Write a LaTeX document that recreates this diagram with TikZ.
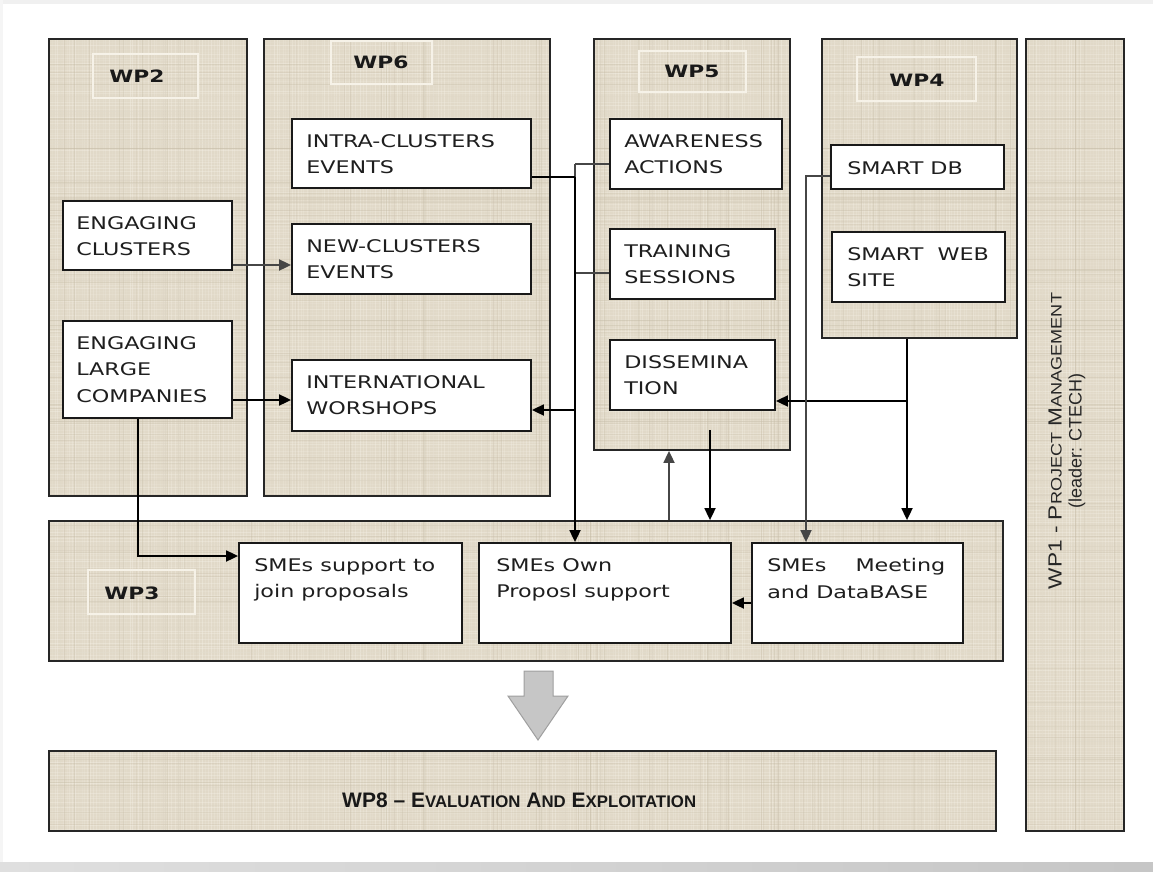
\documentclass[tikz,border=0pt]{standalone}
\usepackage{fontspec}
\usepackage{graphicx}
\usetikzlibrary{arrows.meta,fit,calc}
\newfontfamily\wide[FakeStretch=1.28]{DejaVu Sans}
\newfontfamily\arialf{Liberation Sans}
\definecolor{linen}{RGB}{225,217,200}
\definecolor{linenlight}{RGB}{246,242,232}
\definecolor{linendark}{RGB}{196,186,164}
\definecolor{boxtext}{RGB}{30,30,30}
\newcommand\smc[2]{{\fontsize{#1}{#1}\selectfont #2}}
\begin{document}
\begin{tikzpicture}[x=1pt,y=-1pt,
  panel/.style={rectangle, draw=black!85, line width=1.8pt, fill=linen, inner sep=0pt},
  tag/.style={rectangle, draw=linenlight, line width=1.3pt, inner sep=0pt},
  tagtext/.style={inner sep=0pt, text=black!90, font=\wide\bfseries\fontsize{17}{20}\selectfont},
  box/.style={rectangle, draw=black!90, line width=1.8pt, fill=white, inner sep=0pt},
  txt/.style={anchor=north west, inner sep=0pt, align=left, text=boxtext,
              font=\wide\fontsize{17.4}{26.5}\selectfont},
  ln/.style={line width=1.8pt},
  arr/.style={line width=1.8pt, -{Triangle[length=12pt,width=11pt]}},
  soft/.style={draw=gray!55!black}
]
\useasboundingbox (0,0) rectangle (1153,872);

% page frame and shadow
\fill[white] (0,0) rectangle (1153,872);
\fill[gray!12] (0,0) rectangle (1153,4);
\fill[gray!8] (0,0) rectangle (3,872);
\shade[left color=gray!25, right color=gray!45] (0,862) rectangle (1153,872);

% work package panels (fill first, linen weave, then borders)
\fill[linen] (49,39) rectangle (247,496) (264,39) rectangle (550,496)
  (594,39) rectangle (790,450) (822,39) rectangle (1017,338)
  (1026,39) rectangle (1124,831) (49,521) rectangle (1003,661)
  (49,751) rectangle (996,831);
\begin{scope}
  \clip (49,39) rectangle (247,496) (264,39) rectangle (550,496)
    (594,39) rectangle (790,450) (822,39) rectangle (1017,338)
    (1026,39) rectangle (1124,831) (49,521) rectangle (1003,661)
    (49,751) rectangle (996,831);
  \pgfmathsetseed{11}
  \foreach \k in {0,...,384}{
    \pgfmathsetmacro\op{0.08+0.3*rnd}
    \draw[linenlight, opacity=\op, line width=1pt] (\k*3+rnd*2,0) -- ++(0,872);
  }
  \foreach \k in {0,...,290}{
    \pgfmathsetmacro\op{0.08+0.3*rnd}
    \draw[linenlight, opacity=\op, line width=1pt] (0,\k*3+rnd*2) -- ++(1153,0);
  }
  \foreach \k in {0,...,120}{
    \pgfmathsetmacro\op{0.1+0.25*rnd}
    \draw[linendark, opacity=\op, line width=0.8pt] (rnd*1153,0) -- ++(0,872);
    \draw[linendark, opacity=\op, line width=0.8pt] (0,rnd*872) -- ++(1153,0);
  }
\end{scope}
\node[panel, fill=none, fit={(49,39)(247,496)}] (wp2) {};
\node[panel, fill=none, fit={(264,39)(550,496)}] (wp6) {};
\node[panel, fill=none, fit={(594,39)(790,450)}] (wp5) {};
\node[panel, fill=none, fit={(822,39)(1017,338)}] (wp4) {};
\node[panel, fill=none, fit={(1026,39)(1124,831)}] (wp1) {};
\node[panel, fill=none, fit={(49,521)(1003,661)}] (wp3) {};
\node[panel, fill=none, fit={(49,751)(996,831)}] (wp8) {};

% panel titles
\node[tag, fit={(93,54)(198,98)}] (tag2) {};
\node[tagtext] (t2) at (137,76) {WP2};
\node[tag, fit={(331,41)(432,84)}] (tag6) {};
\node[tagtext] (t6) at (381,62) {WP6};
\node[tag, fit={(639,51)(746,92)}] (tag5) {};
\node[tagtext] (t5) at (692,71) {WP5};
\node[tag, fit={(857,57)(976,101)}] (tag4) {};
\node[tagtext] (t4) at (917,80) {WP4};
\node[tag, fit={(88,570)(195,614)}] (tag3) {};
\node[tagtext] (t3) at (132,593) {WP3};

% activity boxes
\node[box, fit={(63,201)(232,270)}] (engC) {};
\node[box, fit={(63,321)(232,418)}] (engL) {};
\node[box, fit={(292,119)(531,188)}] (intra) {};
\node[box, fit={(292,224)(531,294)}] (newc) {};
\node[box, fit={(292,360)(531,431)}] (intl) {};
\node[box, fit={(610,119)(782,189)}] (awa) {};
\node[box, fit={(610,229)(775,299)}] (train) {};
\node[box, fit={(610,340)(775,410)}] (diss) {};
\node[box, fit={(831,145)(1004,189)}] (sdb) {};
\node[box, fit={(832,232)(1005,302)}] (sweb) {};
\node[box, fit={(239,543)(462,643)}] (sup) {};
\node[box, fit={(479,543)(731,643)}] (own) {};
\node[box, fit={(752,543)(963,643)}] (meet) {};

% box texts
\node[txt] (tengC) at ([shift={(14,16)}]engC.north west) {ENGAGING\\CLUSTERS};
\node[txt] (tengL) at ([shift={(14,16)}]engL.north west) {ENGAGING\\LARGE\\COMPANIES};
\node[txt] (tintra) at ([shift={(15,16)}]intra.north west) {INTRA-CLUSTERS\\EVENTS};
\node[txt] (tnewc) at ([shift={(15,16)}]newc.north west) {NEW-CLUSTERS\\EVENTS};
\node[txt] (tintl) at ([shift={(15,16)}]intl.north west) {INTERNATIONAL\\WORSHOPS};
\node[txt] (tawa) at ([shift={(15,16)}]awa.north west) {AWARENESS\\ACTIONS};
\node[txt] (ttrain) at ([shift={(15,16)}]train.north west) {TRAINING\\SESSIONS};
\node[txt] (tdiss) at ([shift={(15,16)}]diss.north west) {DISSEMINA\\TION};
\node[txt] (tsdb) at ([shift={(17,17)}]sdb.north west) {SMART DB};
\node[txt] (tsweb) at ([shift={(16,16)}]sweb.north west) {SMART\ \ WEB\\SITE};
\node[txt] (tsup) at ([shift={(16,16)}]sup.north west) {SMEs support to\\join proposals};
\node[txt] (town) at ([shift={(18,16)}]own.north west) {SMEs Own\\Proposl support};
\node[txt] (tmeet) at ([shift={(16,16)}]meet.north west) {\hbox to 178pt{SMEs\hfill Meeting}\\and DataBASE};

% side and bottom package titles
\node[rotate=90, align=center, inner sep=0pt, text=black!85,
      font=\arialf\fontsize{19}{20}\selectfont] (t1) at (1067,441)
  {\scalebox{1.19}[1]{WP1 - P\smc{15.2}{ROJECT} M\smc{15.2}{ANAGEMENT}}\\
   \scalebox{1.0}[1]{\fontsize{18}{20}\selectfont (leader: CTECH)}};
\node[anchor=base west, inner sep=0pt, text=black!90, font=\arialf\bfseries\fontsize{21}{24}\selectfont] (t8) at (342,807)
  {WP8 – E\smc{16.8}{VALUATION} A\smc{16.8}{ND} E\smc{16.8}{XPLOITATION}};

% junction points of the connector bus
\coordinate (bTop) at (575,164);
\coordinate (bIntl) at (575,410);
\coordinate (dStart) at (710,430);
\coordinate (vWP4) at (907,401);

% connectors
\draw[arr, soft] (engC.east |- 0,265) -- (newc.west |- 0,265);
\draw[arr] (engL.east |- 0,400) -- (intl.west |- 0,400);
\draw[arr] (engL.south -| 138,0) |- (sup.west |- 0,556);

\draw[ln, soft] (awa.west |- bTop) -- (bTop);
\draw[ln, soft] (train.west |- 0,273) -- (bTop |- 0,273);
\draw[ln, soft] (bTop) -- (bTop |- 0,300);
\draw[arr] (bTop |- 0,177) -- (own.north -| bTop);
\draw[ln] (intra.east |- 0,177) -- (bTop |- 0,177);
\draw[arr] (bIntl) -- (intl.east |- bIntl);

\draw[arr, soft] (wp3.north -| 669,0) -- (wp5.south -| 669,0);
\draw[arr] (dStart) -- (wp3.north -| dStart);

\draw[arr] (wp4.south -| vWP4) -- (wp3.north -| vWP4);
\draw[arr] (vWP4) -- (diss.east |- vWP4);

\draw[arr, soft] (sdb.west |- 0,176) -| (meet.north -| 806,0);
\draw[arr] (meet.west |- 0,603) -- (own.east |- 0,603);

% transfer arrow from WP3 to WP8
\draw[draw=gray!75, fill=gray!45, line width=1pt]
  (524,671) -- (553,671) -- (553,696) -- (568,696) -- (538,740) -- (508,696) -- (524,696) -- cycle;
\end{tikzpicture}
\end{document}
